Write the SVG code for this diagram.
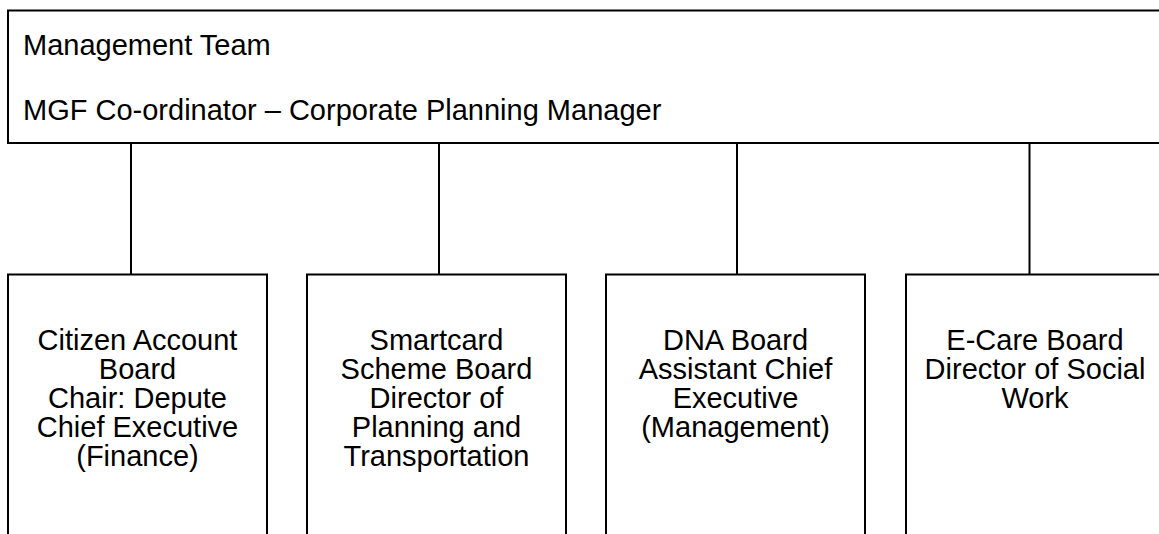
<svg xmlns="http://www.w3.org/2000/svg" width="1159" height="534" viewBox="0 0 1159 534">
  <style>
    .box { fill: #ffffff; stroke: #000000; stroke-width: 2; }
    .link { stroke: #000000; stroke-width: 2; fill: none; }
    text { font-family: "Liberation Sans", Arial, sans-serif; font-size: 29px; fill: #000000; }
    .c { text-anchor: middle; }
  </style>
  <rect width="1159" height="534" fill="#ffffff"/>

  <!-- connectors from the management team to each board -->
  <g id="connectors">
    <line class="link" x1="131" y1="143" x2="131" y2="274"/>
    <line class="link" x1="439" y1="143" x2="439" y2="274"/>
    <line class="link" x1="737" y1="143" x2="737" y2="274"/>
    <line class="link" x1="1029.5" y1="143" x2="1029.5" y2="274"/>
  </g>

  <g id="management-team">
    <rect class="box" x="8" y="10.5" width="1170" height="132.5"/>
    <text x="23" y="55">Management Team</text>
    <text x="23" y="120">MGF Co-ordinator – Corporate Planning Manager</text>
  </g>

  <g id="citizen-account-board">
    <rect class="box" x="8" y="274.5" width="259" height="280"/>
    <text class="c" x="137.5" y="350">Citizen Account</text>
    <text class="c" x="137.5" y="379">Board</text>
    <text class="c" x="137.5" y="408">Chair: Depute</text>
    <text class="c" x="137.5" y="437">Chief Executive</text>
    <text class="c" x="137.5" y="466">(Finance)</text>
  </g>

  <g id="smartcard-scheme-board">
    <rect class="box" x="307" y="274.5" width="259" height="280"/>
    <text class="c" x="436.5" y="350">Smartcard</text>
    <text class="c" x="436.5" y="379">Scheme Board</text>
    <text class="c" x="436.5" y="408">Director of</text>
    <text class="c" x="436.5" y="437">Planning and</text>
    <text class="c" x="436.5" y="466">Transportation</text>
  </g>

  <g id="dna-board">
    <rect class="box" x="606" y="274.5" width="259" height="280"/>
    <text class="c" x="735.5" y="350">DNA Board</text>
    <text class="c" x="735.5" y="379">Assistant Chief</text>
    <text class="c" x="735.5" y="408">Executive</text>
    <text class="c" x="735.5" y="437">(Management)</text>
  </g>

  <g id="e-care-board">
    <rect class="box" x="906" y="274.5" width="259" height="280"/>
    <text class="c" x="1035" y="350">E-Care Board</text>
    <text class="c" x="1035" y="379">Director of Social</text>
    <text class="c" x="1035" y="408">Work</text>
  </g>
</svg>
